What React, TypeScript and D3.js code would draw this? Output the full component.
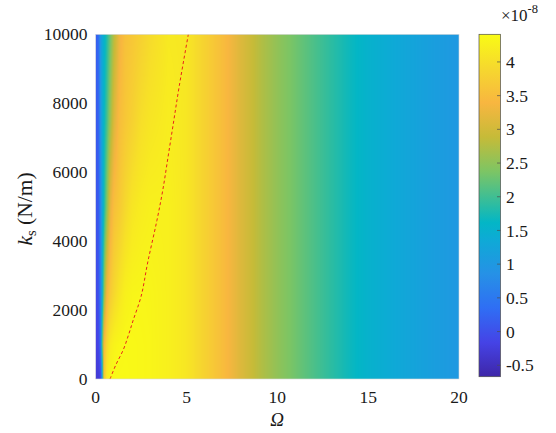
import React, { useMemo } from "react";
import * as d3 from "d3";

// ---- data (values in units of 1e-8) ----
const OMEGA = [0, 0.15, 0.25, 0.35, 0.45, 0.6, 0.8, 1.0, 1.3, 1.6, 2, 2.5, 3, 4, 5, 6, 7, 8, 9, 10, 11, 12, 13, 14, 15, 16, 17, 18, 19, 20];
const KS = [0, 1000, 2500, 5000, 7500, 10000];
const V_KS0 = [-0.3, -0.3, -0.2, 1.0, 3.6, 4.2, 4.35, 4.38, 4.38, 4.38, 4.37, 4.35, 4.33, 4.25, 4.12, 3.82, 3.5, 3.12, 2.78, 2.52, 2.3, 2.08, 1.87, 1.68, 1.52, 1.4, 1.28, 1.18, 1.08, 1.0];
const V_KS1000 = [-0.2, -0.15, 0.3, 2.0, 3.4, 3.9, 4.2, 4.3, 4.35, 4.37, 4.37, 4.35, 4.33, 4.25, 4.12, 3.82, 3.5, 3.12, 2.78, 2.52, 2.3, 2.08, 1.87, 1.68, 1.52, 1.4, 1.28, 1.18, 1.08, 1.0];
const V_KS2500 = [-0.1, 0.0, 0.5, 1.3, 2.4, 3.3, 3.7, 3.9, 4.1, 4.25, 4.32, 4.33, 4.32, 4.25, 4.12, 3.82, 3.5, 3.12, 2.78, 2.52, 2.3, 2.08, 1.87, 1.68, 1.52, 1.4, 1.28, 1.18, 1.08, 1.0];
const V_KS5000 = [0.05, 0.1, 0.6, 1.2, 1.7, 2.4, 3.2, 3.55, 3.7, 3.9, 4.1, 4.2, 4.25, 4.25, 4.12, 3.82, 3.5, 3.12, 2.78, 2.52, 2.3, 2.08, 1.87, 1.68, 1.52, 1.4, 1.28, 1.18, 1.08, 1.0];
const V_KS7500 = [0.1, 0.2, 0.8, 1.3, 1.6, 2.0, 2.6, 3.1, 3.5, 3.65, 3.8, 4.0, 4.1, 4.2, 4.12, 3.82, 3.5, 3.12, 2.78, 2.52, 2.3, 2.08, 1.87, 1.68, 1.52, 1.4, 1.28, 1.18, 1.08, 1.0];
const V_KS10000 = [0.15, 0.3, 0.9, 1.3, 1.5, 1.8, 2.3, 2.8, 3.3, 3.55, 3.65, 3.8, 3.95, 4.15, 4.12, 3.82, 3.5, 3.12, 2.78, 2.52, 2.3, 2.08, 1.87, 1.68, 1.52, 1.4, 1.28, 1.18, 1.08, 1.0];
const ROWS = [V_KS0, V_KS1000, V_KS2500, V_KS5000, V_KS7500, V_KS10000];

// red dashed curve (peak locus)
const PEAK_KS = [0, 400, 850, 1300, 1700, 2400, 3400, 4600, 5500, 6500, 7500, 8500, 10000];
const PEAK_OMEGA = [0.79, 1.1, 1.52, 1.82, 2.06, 2.5, 2.87, 3.37, 3.7, 4.0, 4.3, 4.6, 5.1];

const X_TICKS = [0, 5, 10, 15, 20];
const Y_TICKS = [0, 2000, 4000, 6000, 8000, 10000];
const CB_TICKS = [-0.5, 0, 0.5, 1, 1.5, 2, 2.5, 3, 3.5, 4];
const CB_MIN = -0.67;
const CB_MAX = 4.41;

// parula-like colour map stops
const CMAP_POS = [0, 0.1, 0.2, 0.3, 0.4, 0.45, 0.5, 0.6, 0.7, 0.8, 0.9, 1];
const CMAP_COLORS = ["#3e26a8", "#4543e6", "#2f6ef4", "#2691e6", "#0eaad6", "#03b6c6", "#2bbca3", "#7dc564", "#c6bb38", "#f8b640", "#f6d82e", "#f9fb15"];

const FONT = '"Liberation Serif", "Times New Roman", "DejaVu Serif", serif';
const TXT = { fontFamily: FONT };

export default function App() {
  const L = 95.7, R = 459, T = 34.3, B = 379;
  const x = d3.scaleLinear().domain([0, 20]).range([L, R]);
  const y = d3.scaleLinear().domain([0, 10000]).range([B, T]);

  const color = d3
    .scaleLinear<string>()
    .domain(CMAP_POS.map((p) => CB_MIN + p * (CB_MAX - CB_MIN)))
    .range(CMAP_COLORS)
    .clamp(true);

  const url = useMemo(() => {
    const w = 364, h = 345;
    const c = document.createElement("canvas");
    c.width = w;
    c.height = h;
    const ctx = c.getContext("2d");
    if (!ctx) return "";
    const img = ctx.createImageData(w, h);
    const lut: number[][] = [];
    const N = 1024;
    for (let k = 0; k < N; k++) {
      const v = CB_MIN + (k / (N - 1)) * (CB_MAX - CB_MIN);
      const cc = d3.rgb(color(v));
      lut.push([cc.r, cc.g, cc.b]);
    }
    const rowScales = ROWS.map((r) => d3.scaleLinear().domain(OMEGA).range(r).clamp(true));
    for (let i = 0; i < w; i++) {
      const om = x.invert(L + ((i + 0.5) * (R - L)) / w);
      const colVals = rowScales.map((s) => s(om));
      const vs = d3.scaleLinear().domain(KS).range(colVals).clamp(true);
      for (let j = 0; j < h; j++) {
        const ks = y.invert(T + ((j + 0.5) * (B - T)) / h);
        const v = vs(ks);
        let k = Math.round(((v - CB_MIN) / (CB_MAX - CB_MIN)) * (N - 1));
        k = Math.max(0, Math.min(N - 1, k));
        const p = (j * w + i) * 4;
        img.data[p] = lut[k][0];
        img.data[p + 1] = lut[k][1];
        img.data[p + 2] = lut[k][2];
        img.data[p + 3] = 255;
      }
    }
    ctx.putImageData(img, 0, 0);
    return c.toDataURL();
  }, []);

  const peakPts = PEAK_KS.map((k, i) => [PEAK_OMEGA[i], k] as [number, number]);
  const line = d3
    .line<[number, number]>()
    .x((d) => x(d[0]))
    .y((d) => y(d[1]))
    .curve(d3.curveCatmullRom);

  // colorbar
  const cbL = 479, cbR = 500.5, cbT = 34.3, cbB = 376.7;
  const cy = d3.scaleLinear().domain([CB_MIN, CB_MAX]).range([cbB, cbT]);

  return (
    <svg
      width={556}
      height={433}
      style={{ position: "absolute", left: 0, top: 0, background: "#fff", fontFamily: FONT }}
    >
      <defs>
        <clipPath id="plotclip">
          <rect x={L} y={T} width={R - L} height={B - T} />
        </clipPath>
        <linearGradient id="cbgrad" x1="0" y1="1" x2="0" y2="0">
          {CMAP_POS.map((p, i) => (
            <stop key={i} offset={p} stopColor={CMAP_COLORS[i]} />
          ))}
        </linearGradient>
      </defs>
      <rect x={0} y={0} width={556} height={433} fill="#fff" />
      {url && (
        <image href={url} x={L} y={T} width={R - L} height={B - T} preserveAspectRatio="none" />
      )}
      <path
        d={line(peakPts) || ""}
        fill="none"
        stroke="#e8231c"
        strokeWidth={1}
        strokeDasharray="3,2.5"
        clipPath="url(#plotclip)"
      />
      <rect x={L} y={T} width={R - L} height={B - T} fill="none" stroke="#d9d9d9" strokeWidth={0.6} />

      {/* x ticks */}
      {X_TICKS.map((t) => (
        <text key={t} x={x(t)} y={403} fontSize={17.5} textAnchor="middle" fill="#1a1a1a" style={TXT}>
          {t}
        </text>
      ))}
      {Y_TICKS.map((t) => (
        <text key={t} x={87.5} y={y(t)} dy="0.35em" fontSize={17.5} textAnchor="end" fill="#1a1a1a" style={TXT}>
          {t}
        </text>
      ))}
      <text x={277} y={426} fontSize={19} fontStyle="italic" textAnchor="middle" fill="#1a1a1a" style={TXT}>
        Ω
      </text>
      <g transform="translate(32,209) rotate(-90)">
        <text x={0} y={0} fontSize={21.5} textAnchor="middle" fill="#1a1a1a" style={TXT}>
          <tspan fontStyle="italic">k</tspan>
          <tspan fontSize={14.5} dy={4}>s</tspan>
          <tspan dy={-4}> (N/m)</tspan>
        </text>
      </g>

      {/* colorbar */}
      <rect x={cbL} y={cbT} width={cbR - cbL} height={cbB - cbT} fill="url(#cbgrad)" />
      <rect x={cbL} y={cbT} width={cbR - cbL} height={cbB - cbT} fill="none" stroke="#4d4d4d" strokeWidth={0.7} />
      {CB_TICKS.map((t) => (
        <g key={t}>
          <line x1={cbR - 3.5} x2={cbR} y1={cy(t)} y2={cy(t)} stroke="#4d4d4d" strokeWidth={0.7} />
          <text x={506} y={cy(t)} dy="0.35em" fontSize={17.5} fill="#1a1a1a" style={TXT}>
            {t}
          </text>
        </g>
      ))}
      <text x={501} y={21} fontSize={17} fill="#1a1a1a" style={TXT}>
        ×10
        <tspan fontSize={12.5} dy={-8}>-8</tspan>
      </text>
    </svg>
  );
}
